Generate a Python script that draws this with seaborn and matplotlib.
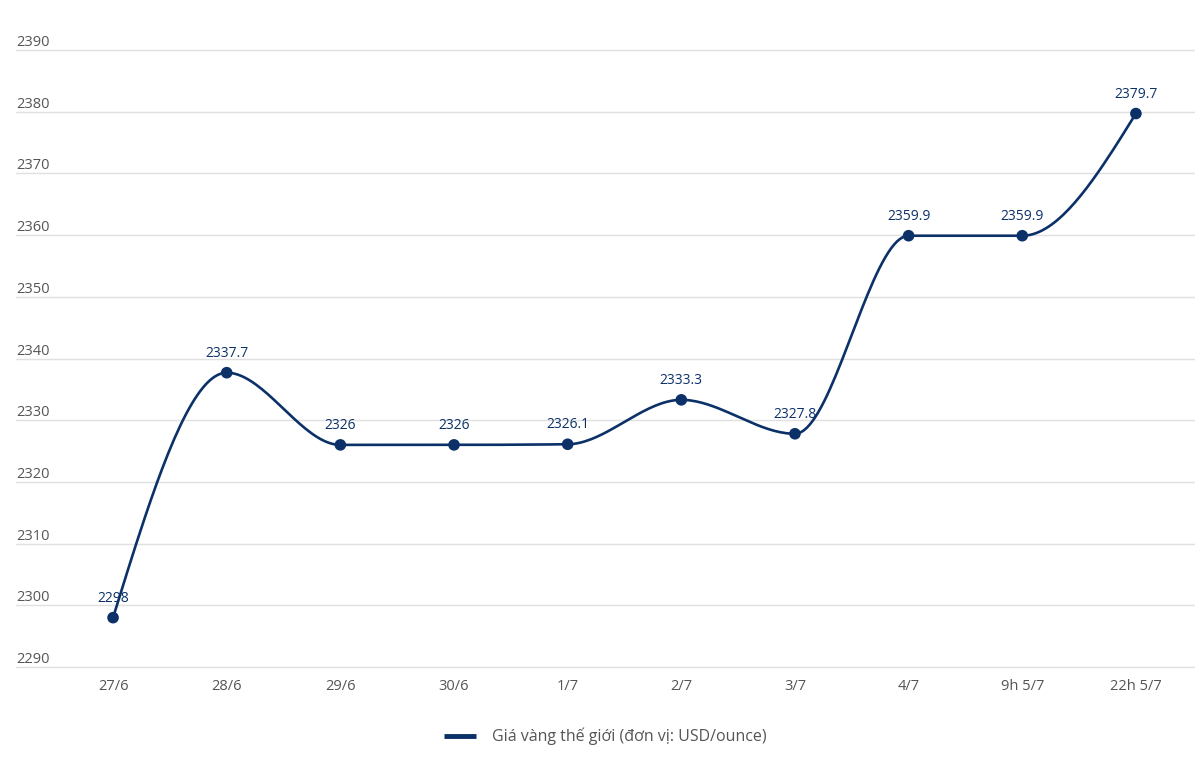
import numpy as np
import pandas as pd
import matplotlib
matplotlib.use("Agg")
import matplotlib.pyplot as plt
import matplotlib.transforms as mtransforms
import seaborn as sns

days = ["27/6", "28/6", "29/6", "30/6", "1/7", "2/7", "3/7", "4/7", "9h 5/7", "22h 5/7"]
prices = [2298, 2337.7, 2326, 2326, 2326.1, 2333.3, 2327.8, 2359.9, 2359.9, 2379.7]
labels = ["2298", "2337.7", "2326", "2326", "2326.1", "2333.3", "2327.8", "2359.9", "2359.9", "2379.7"]
y_ticks = [2290, 2300, 2310, 2320, 2330, 2340, 2350, 2360, 2370, 2380, 2390]
series_name = "Giá vàng thế giới (đơn vị: USD/ounce)"

NAVY = "#0b3168"


def monotone_curve(x, y, n=40):
    # monotone cubic (same idea as d3 curveMonotoneX) for drawing only
    x = np.asarray(x, float)
    y = np.asarray(y, float)
    h = np.diff(x)
    s = np.diff(y) / h
    t = np.zeros_like(y)
    for i in range(1, len(y) - 1):
        p = (s[i - 1] * h[i] + s[i] * h[i - 1]) / (h[i - 1] + h[i])
        t[i] = (np.sign(s[i - 1]) + np.sign(s[i])) * min(abs(s[i - 1]), abs(s[i]), 0.5 * abs(p))
    t[0] = (3 * s[0] - t[1]) / 2
    t[-1] = (3 * s[-1] - t[-2]) / 2
    xs, ys = [], []
    for i in range(len(h)):
        u = np.linspace(0, 1, n)
        h00 = 2 * u**3 - 3 * u**2 + 1
        h10 = u**3 - 2 * u**2 + u
        h01 = -2 * u**3 + 3 * u**2
        h11 = u**3 - u**2
        xs.append(x[i] + u * h[i])
        ys.append(h00 * y[i] + h10 * h[i] * t[i] + h01 * y[i + 1] + h11 * h[i] * t[i + 1])
    return np.concatenate(xs), np.concatenate(ys)


sns.set_theme(style="white")
plt.rcParams["font.family"] = ["Open Sans", "DejaVu Sans"]

df = pd.DataFrame({"pos": np.arange(len(days)), "price": prices})
cx, cy = monotone_curve(df["pos"], df["price"])
curve = pd.DataFrame({"pos": cx, "price": cy})

fig = plt.figure(figsize=(11.95, 7.76), dpi=100)
ax = fig.add_axes([16 / 1195, 109 / 776, 1 - 16 / 1195, (667 - 50) / 776])

sns.lineplot(data=curve, x="pos", y="price", ax=ax, color=NAVY, linewidth=1.9,
             sort=False, label=series_name, zorder=3)
sns.scatterplot(data=df, x="pos", y="price", ax=ax, color=NAVY, s=70,
                edgecolor="none", zorder=4, legend=False)

for i, (v, lab) in enumerate(zip(prices, labels)):
    ax.annotate(lab, (i, v), xytext=(0, 8.5), textcoords="offset points",
                ha="center", va="bottom", fontsize=10, color=NAVY, zorder=5)

ax.set_ylim(2290, 2390)
ax.set_xlim(-0.854, 9.52)
ax.set_yticks([])
for yv in y_ticks:
    ax.axhline(yv, color="#e0e0e0", linewidth=1, zorder=0, clip_on=False)

trans = mtransforms.blended_transform_factory(ax.transAxes, ax.transData)
for yv in y_ticks:
    ax.text(0, yv, str(yv), transform=trans, ha="left", va="bottom",
            fontsize=10.5, color="#555555")

ax.set_xticks(range(len(days)))
ax.set_xticklabels(days, fontsize=10.5, color="#555555")
ax.tick_params(axis="x", length=0, pad=9)
ax.set_xlabel("")
ax.set_ylabel("")
for sp in ax.spines.values():
    sp.set_visible(False)

leg = ax.legend(loc="upper center", bbox_to_anchor=(0.5, -0.075), frameon=False,
                fontsize=11.5, handlelength=2.0, handletextpad=1.0)
for line in leg.get_lines():
    line.set_linewidth(3.5)
    line.set_solid_capstyle("butt")
for txt in leg.get_texts():
    txt.set_color("#555555")

fig.savefig("out.png", dpi=100)
